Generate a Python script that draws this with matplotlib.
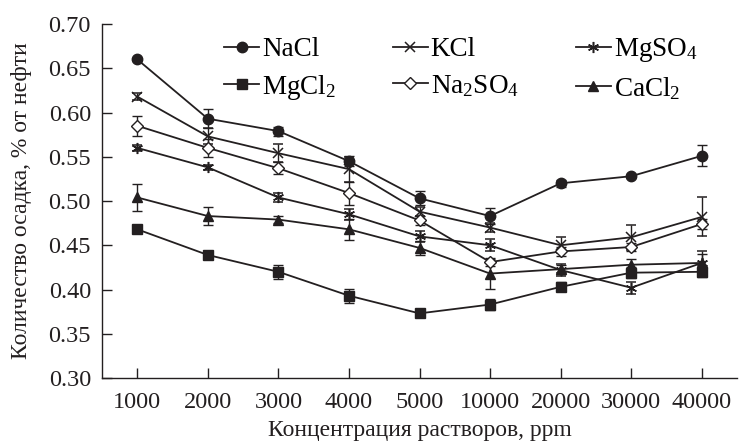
import matplotlib
matplotlib.use("Agg")
import matplotlib.pyplot as plt
from matplotlib.lines import Line2D
import numpy as np

plt.rcParams['font.family'] = ['Liberation Serif', 'DejaVu Serif']
plt.rcParams['mathtext.fontset'] = 'custom'
plt.rcParams['mathtext.rm'] = 'Liberation Serif'
plt.rcParams['mathtext.it'] = 'Liberation Serif'
plt.rcParams['mathtext.bf'] = 'Liberation Serif'

categories = ['1000', '2000', '3000', '4000', '5000', '10000', '20000', '30000', '40000']

nacl = [0.660, 0.593, 0.579, 0.545, 0.503, 0.483, 0.520, 0.528, 0.551]
nacl_err = [0.002, 0.011, 0.005, 0.006, 0.008, 0.009, 0.004, 0.002, 0.012]

kcl = [0.618, 0.573, 0.554, 0.536, 0.488, 0.470, 0.450, 0.459, 0.482]
kcl_err = [0.004, 0.009, 0.010, 0.014, 0.005, 0.005, 0.009, 0.014, 0.022]

mgso4 = [0.560, 0.538, 0.504, 0.485, 0.460, 0.450, 0.422, 0.402, 0.430]
mgso4_err = [0.003, 0.003, 0.005, 0.006, 0.006, 0.007, 0.007, 0.007, 0.013]

mgcl2 = [0.468, 0.439, 0.420, 0.393, 0.373, 0.383, 0.403, 0.419, 0.420]
mgcl2_err = [0.003, 0.003, 0.008, 0.008, 0.003, 0.006, 0.005, 0.006, 0.006]

na2so4 = [0.585, 0.560, 0.537, 0.509, 0.478, 0.431, 0.443, 0.448, 0.474]
na2so4_err = [0.011, 0.010, 0.007, 0.013, 0.005, 0.005, 0.005, 0.005, 0.006]

cacl2 = [0.504, 0.483, 0.479, 0.468, 0.447, 0.418, 0.423, 0.428, 0.430]
cacl2_err = [0.015, 0.010, 0.004, 0.012, 0.008, 0.017, 0.005, 0.007, 0.010]

labels = ['NaCl', 'KCl', 'MgSO$_4$', 'MgCl$_2$', 'Na$_2$SO$_4$', 'CaCl$_2$']

C = '#231f20'
W, H = 739, 443
fig = plt.figure(figsize=(W / 100, H / 100), dpi=100)
ax = fig.add_axes([102 / W, 1 - 378 / H, (737 - 102) / W, (378 - 24) / H])

x = np.arange(len(categories))

series = [
    (nacl, nacl_err, dict(marker='o', ms=7.5, mfc=C, mec=C)),
    (kcl, kcl_err, dict(marker='x', ms=7, mec=C, mew=1.1)),
    (mgso4, mgso4_err, dict(marker=(6, 2, 0), ms=8, mec=C, mew=1.1)),
    (mgcl2, mgcl2_err, dict(marker='s', ms=6.5, mfc=C, mec=C)),
    (na2so4, na2so4_err, dict(marker='D', ms=6, mfc='white', mec=C, mew=1.0)),
    (cacl2, cacl2_err, dict(marker='^', ms=7.5, mfc=C, mec=C)),
]

handles = []
for (vals, err, style), lab in zip(series, labels):
    ax.errorbar(x, vals, yerr=err, color=C, lw=1.3, elinewidth=1.0,
                capsize=3.5, capthick=1.0, label=lab, zorder=3, **style)
    handles.append(Line2D([], [], color=C, lw=1.3, **style))

ax.set_xlim(-0.5, 8.5)
ax.set_ylim(0.30, 0.70)
yt = np.arange(0.30, 0.701, 0.05)
ax.set_yticks(yt)
ax.set_yticklabels([f'{v:.2f}' for v in yt])
ax.set_xticks(x)
ax.set_xticklabels(categories)
ax.tick_params(direction='in', length=7, width=1.0, labelsize=17.5, color=C, labelcolor=C)
ax.tick_params(axis='x', pad=10)
ax.tick_params(axis='y', pad=8)
for s in ['top', 'right']:
    ax.spines[s].set_visible(False)
for s in ['left', 'bottom']:
    ax.spines[s].set_linewidth(1.0)
    ax.spines[s].set_color(C)

ax.set_xlabel('Концентрация растворов, ppm', fontsize=17, color=C, labelpad=5)
ax.set_ylabel('Количество осадка, % от нефти', fontsize=17, color=C, labelpad=12)

order = [0, 3, 1, 4, 2, 5]
leg = ax.legend([handles[i] for i in order], [labels[i] for i in order],
                ncol=3, frameon=False, fontsize=19.5, handlelength=1.3,
                handletextpad=0.1, columnspacing=2.1, labelspacing=0.4,
                loc='upper left', bbox_to_anchor=(224 / W, 1 - 36 / H),
                bbox_transform=fig.transFigure, borderaxespad=0, borderpad=0)

fig.savefig('out.png', dpi=100)
